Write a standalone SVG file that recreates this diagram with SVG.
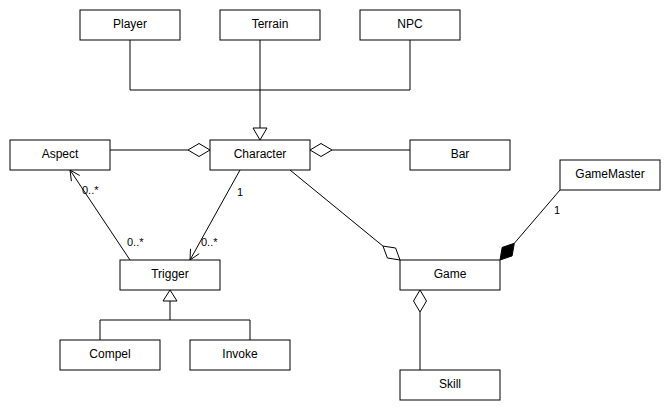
<svg xmlns="http://www.w3.org/2000/svg" width="670" height="410" viewBox="0 0 670 410">
<style>
rect.n{fill:#fff;stroke:#000;stroke-width:1}
text{font-family:"Liberation Sans",Arial,sans-serif;fill:#000}
text.t{font-size:12px;text-anchor:middle}
text.l{font-size:11px}
.c line,.c polyline{fill:none;stroke:#000;stroke-width:1}
.c polygon.h{fill:#fff;stroke:#000;stroke-width:1}
.c polygon.f{fill:#000;stroke:#000;stroke-width:1}
</style>
<rect width="670" height="410" fill="#fff"/>
<g class="c" id="connectors">
<polyline points="130,40 130,90 410,90 410,40"/>
<line x1="260" y1="40" x2="260" y2="128"/>
<polygon class="h" points="260,140 253,128 267,128"/>
<line x1="110" y1="150" x2="188" y2="150"/>
<polygon class="h" points="210,150 199,143.5 188,150 199,156.5"/>
<line x1="332" y1="150" x2="410" y2="150"/>
<polygon class="h" points="310,150 321,143.5 332,150 321,156.5"/>
<line x1="130" y1="260" x2="70" y2="170"/>
<polyline points="79.7,175.5 70,170 71.4,181.1"/>
<line x1="240" y1="170" x2="190" y2="260"/>
<polyline points="199.2,253.7 190,260 190.5,248.8"/>
<polygon class="h" points="170,290 163,301 177,301"/>
<line x1="170" y1="301" x2="170" y2="320"/>
<polyline points="100,340 100,320 250,320 250,340"/>
<line x1="290" y1="170" x2="383" y2="246.1"/>
<polygon class="h" points="400,260 395.6,248 383,246.1 387.4,258"/>
<line x1="560" y1="190" x2="514.3" y2="243.3"/>
<polygon class="f" points="500,260 512.1,255.9 514.3,243.3 502.2,247.4"/>
<polygon class="h" points="420,290 426.5,301 420,312 413.5,301"/>
<line x1="420" y1="312" x2="420" y2="370"/>
<text class="l" x="82" y="194">0..*</text>
<text class="l" x="127" y="246">0..*</text>
<text class="l" x="237" y="196">1</text>
<text class="l" x="201" y="246">0..*</text>
<text class="l" x="554" y="214">1</text>
</g>
<g id="Player"><rect class="n" x="80" y="10" width="100" height="30"/><text class="t" x="130" y="28">Player</text></g>
<g id="Terrain"><rect class="n" x="220" y="10" width="100" height="30"/><text class="t" x="270" y="28">Terrain</text></g>
<g id="NPC"><rect class="n" x="360" y="10" width="100" height="30"/><text class="t" x="410" y="28">NPC</text></g>
<g id="Aspect"><rect class="n" x="10" y="140" width="100" height="30"/><text class="t" x="60" y="158">Aspect</text></g>
<g id="Character"><rect class="n" x="210" y="140" width="100" height="30"/><text class="t" x="260" y="158">Character</text></g>
<g id="Bar"><rect class="n" x="410" y="140" width="100" height="30"/><text class="t" x="460" y="158">Bar</text></g>
<g id="GameMaster"><rect class="n" x="560" y="160" width="100" height="30"/><text class="t" x="610" y="178">GameMaster</text></g>
<g id="Trigger"><rect class="n" x="120" y="260" width="100" height="30"/><text class="t" x="170" y="278">Trigger</text></g>
<g id="Game"><rect class="n" x="400" y="260" width="100" height="30"/><text class="t" x="450" y="278">Game</text></g>
<g id="Compel"><rect class="n" x="60" y="340" width="100" height="30"/><text class="t" x="110" y="358">Compel</text></g>
<g id="Invoke"><rect class="n" x="190" y="340" width="100" height="30"/><text class="t" x="240" y="358">Invoke</text></g>
<g id="Skill"><rect class="n" x="400" y="370" width="100" height="30"/><text class="t" x="450" y="388">Skill</text></g>
</svg>
